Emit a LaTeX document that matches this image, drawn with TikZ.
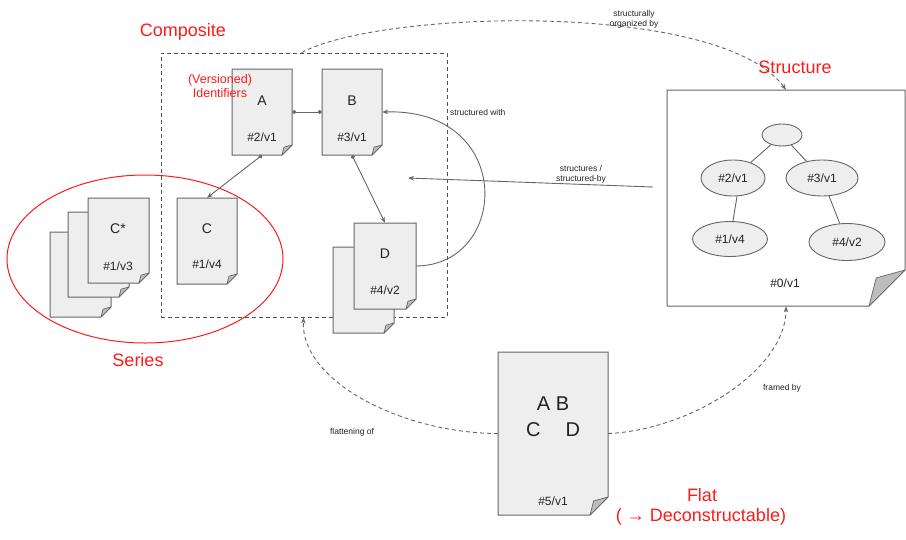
\documentclass[tikz,border=0pt]{standalone}
\usepackage{fontspec}
\setmainfont{Liberation Sans}
\usetikzlibrary{arrows.meta,shapes.geometric,fit}
\definecolor{docfill}{HTML}{EEEEEE}
\definecolor{docline}{HTML}{666666}
\definecolor{foldfill}{HTML}{BDBDBD}
\definecolor{titlered}{HTML}{FF1A1A}
\definecolor{txt}{HTML}{222222}
\newcommand\pagedoc[7]{%
  \filldraw[fill=#7, draw=docline, line width=1pt, line join=miter] (#2,#3) -- (#4,#3) -- (#4,#5-#6) -- (#4-#6,#5) -- (#2,#5) -- cycle;
  \filldraw[fill=foldfill, draw=docline, line width=0.7pt, line join=round] (#4,#5-#6) -- (#4-0.8*#6,#5-0.78*#6) -- (#4-#6,#5) -- cycle;
  \node[fit={(#2,#3) (#4,#5)}, inner sep=0pt] (#1) {};
}
\tikzset{
  doclet/.style={font=\fontsize{14}{16}\selectfont, text=txt, inner sep=1pt},
  docid/.style={font=\fontsize{12}{14}\selectfont, text=txt, inner sep=1pt},
  small/.style={font=\fontsize{8.5}{10}\selectfont, text=txt, inner sep=1pt, align=center},
  title/.style={font=\fontsize{18}{21}\selectfont, text=titlered, inner sep=1pt, align=center},
  treenode/.style={ellipse, draw=docline, fill=docfill, line width=0.9pt, inner sep=0pt, font=\fontsize{12}{14}\selectfont, text=txt},
  conn/.style={draw=docline, line width=0.9pt},
  dashconn/.style={draw=docline, line width=0.9pt, dash pattern=on 4pt off 3pt},
  tip/.tip={Stealth[length=6pt,width=4.5pt]},
  dot/.tip={Circle[length=4pt]},
}
\begin{document}
\begin{tikzpicture}[x=1pt,y=-1pt]
\useasboundingbox (0,0) rectangle (906,539);
% composite box
\node[draw=docline!80!black, line width=0.8pt, dash pattern=on 4pt off 3pt, fit={(161,53) (447,317)}, inner sep=0pt] (comp) {};
% series ellipse
\node[ellipse, draw=titlered, line width=1pt, minimum width=276pt, minimum height=168pt, inner sep=0pt] (series) at (145,259) {};
% documents
\pagedoc{A}{232}{69}{292}{155}{10}{docfill}
\pagedoc{B}{322}{69}{382}{155}{10}{docfill}
\pagedoc{C}{177}{198}{237}{284}{10}{docfill}
\pagedoc{Dback}{333}{247}{394}{333}{10}{docfill}
\pagedoc{D}{354}{223}{416}{309}{10}{docfill}
\pagedoc{Cback}{50}{232}{111}{317}{10}{docfill}
\pagedoc{Cmid}{68}{212}{129}{297}{10}{docfill}
\pagedoc{Cstar}{88}{198}{149}{283}{10}{docfill}
\pagedoc{flat}{498}{352}{608}{515}{18}{docfill}
\pagedoc{struct}{667}{90}{905}{306}{36}{white}
% document texts
\node[doclet] (Alet) at (262,101) {A};
\node[docid] (Aid) at (262,137) {\#2/v1};
\node[doclet] (Blet) at (352,101) {B};
\node[docid] (Bid) at (352,137) {\#3/v1};
\node[doclet] (Clet) at (207,229) {C};
\node[docid] (Cid) at (207,264) {\#1/v4};
\node[doclet] (Dlet) at (385,254) {D};
\node[docid] (Did) at (385,290) {\#4/v2};
\node[doclet] (Cslet) at (118,229) {C*};
\node[docid] (Csid) at (118,266) {\#1/v3};
\node[font=\fontsize{20}{22}\selectfont, text=txt, inner sep=0pt] (fAB) at (553,404) {A B};
\node[font=\fontsize{20}{22}\selectfont, text=txt, inner sep=0pt] (fCD) at (553,430) {C\hspace{25pt}D};
\node[docid] (fid) at (553,501) {\#5/v1};
% tree
\node[treenode, minimum width=40pt, minimum height=22pt] (root) at (782,135) {};
\node[treenode, minimum width=64pt, minimum height=36pt] (t2) at (733,178) {\#2/v1};
\node[treenode, minimum width=72pt, minimum height=36pt] (t3) at (822,178) {\#3/v1};
\node[treenode, minimum width=75pt, minimum height=35pt] (t1) at (730,239) {\#1/v4};
\node[treenode, minimum width=76pt, minimum height=37pt] (t4) at (847,242) {\#4/v2};
\draw[conn] (root) -- (t2);
\draw[conn] (root) -- (t3);
\draw[conn] (t2.south) ++(4pt,0) coordinate (t2b) (t2b) -- (t1);
\draw[conn] (t3) -- (t4);
\node[docid] (sid) at (785,283) {\#0/v1};
% connectors in composite
\draw[conn, dot-dot] (A.east) -- (B.west);
\draw[conn, dot-tip] (A.south) -- (C.north);
\draw[conn, dot-tip] (B.south) -- (D.north);
\draw[conn, -tip] (D.east) .. controls (510,265) and (515,108) .. (B.east);
\node[small, anchor=west] (swlbl) at (449,112) {structured with};
\coordinate (sb1) at (653,187);
\coordinate (sb2) at (408,178);
\draw[conn, -tip] (sb1) -- (sb2);
\node[small] (sblbl) at (581,174) {structures /\\structured-by};
% dashed relations
\draw[dashconn, -tip] ([xshift=141pt]comp.north west) .. controls (380,10) and (720,0) .. (struct.north);
\node[small] (solbl) at (634,19) {structurally\\organized by};
\draw[dashconn, -tip] (flat.west) .. controls (400,433) and (300,380) .. ([xshift=143pt]comp.south west);
\node[small] (flbl) at (352,432) {flattening of};
\draw[dashconn, -tip] (flat.east) .. controls (690,430) and (786,370) .. (struct.south);
\node[small] (fblbl) at (782,388) {framed by};
% titles
\node[title] (tcomp) at (183,32) {Composite};
\node[title] (tstruct) at (795,67) {Structure};
\node[title] (tseries) at (138,360) {Series};
\node[font=\fontsize{12.5}{13.5}\selectfont, text=titlered, inner sep=0pt, align=center] (tid) at (220,86) {(Versioned)\\Identifiers};
\node[title] (tflat) at (702,495) {Flat};
\node[title] (tdec) at (701,517) {( → Deconstructable)};
\end{tikzpicture}
\end{document}
